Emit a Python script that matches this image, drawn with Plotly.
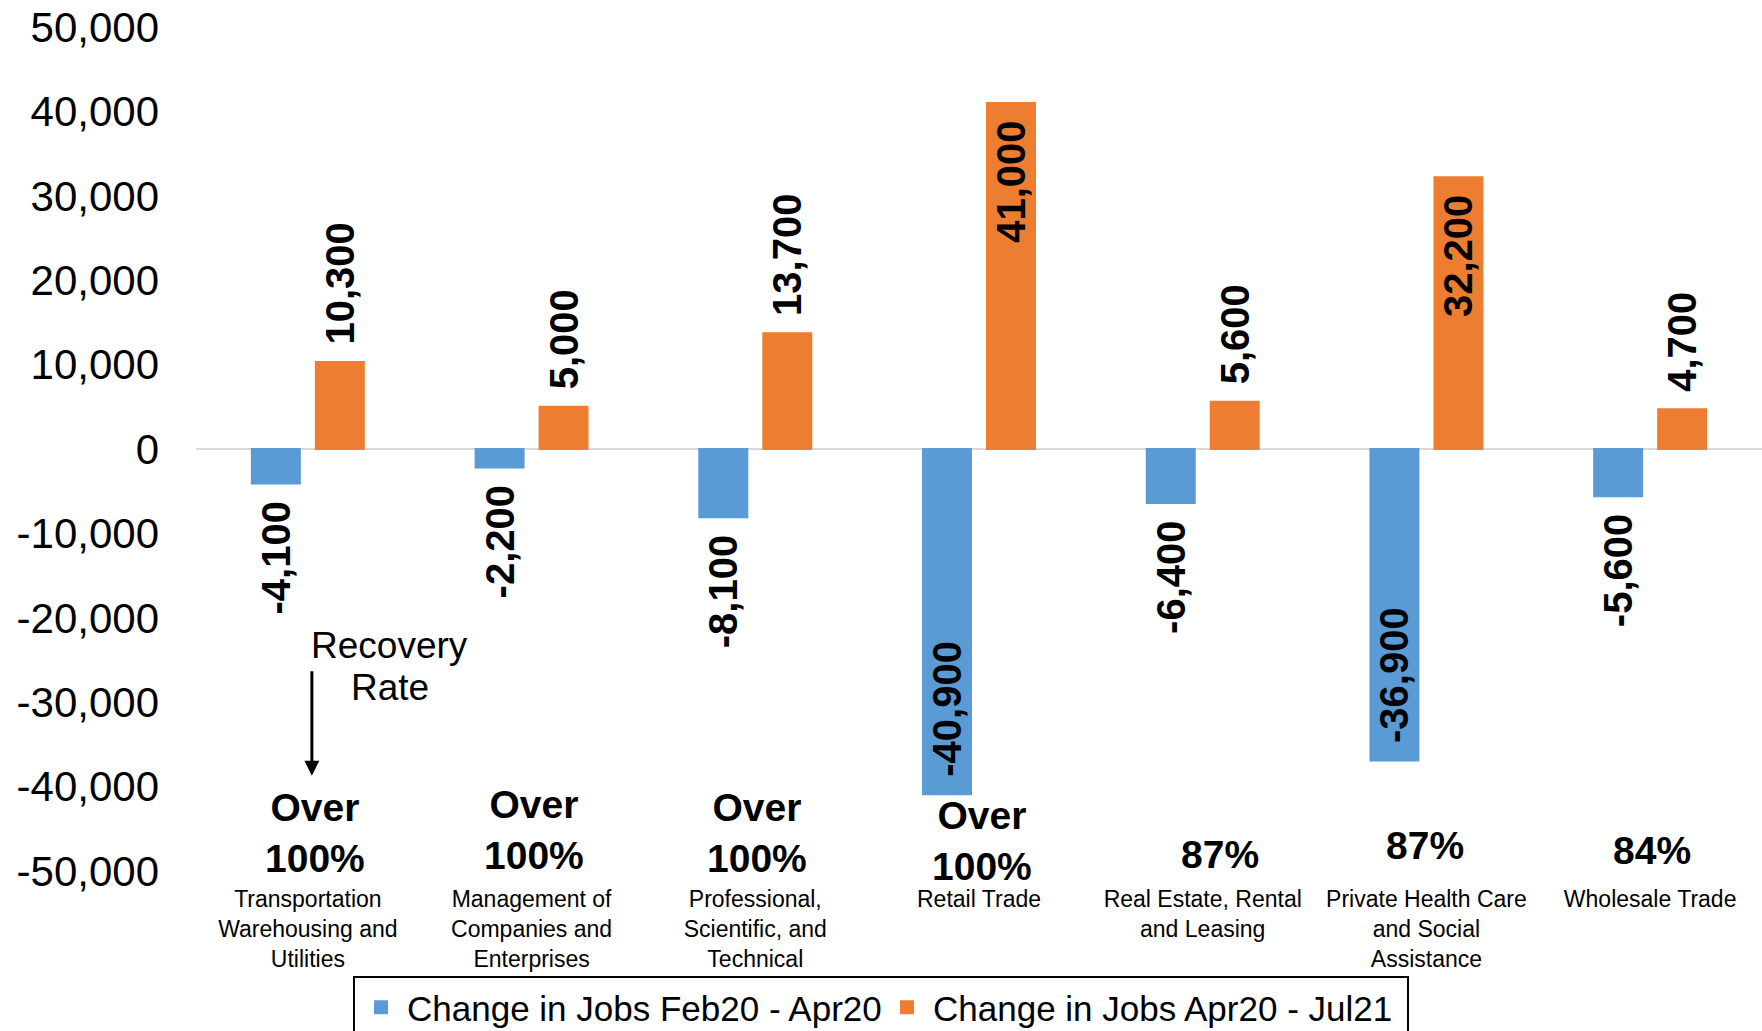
import plotly.graph_objects as go

categories = [
    "Transportation<br>Warehousing and<br>Utilities",
    "Management of<br>Companies and<br>Enterprises",
    "Professional,<br>Scientific, and<br>Technical",
    "Retail Trade",
    "Real Estate, Rental<br>and Leasing",
    "Private Health Care<br>and Social<br>Assistance",
    "Wholesale Trade",
]
series_names = ["Change in Jobs Feb20 - Apr20", "Change in Jobs Apr20 - Jul21"]
loss_feb_apr20 = [-4100, -2200, -8100, -40900, -6400, -36900, -5600]
gain_apr20_jul21 = [10300, 5000, 13700, 41000, 5600, 32200, 4700]
recovery_rates = ["Over<br>100%", "Over<br>100%", "Over<br>100%", "Over<br>100%", "87%", "87%", "84%"]
y_tick_values = [-50000, -40000, -30000, -20000, -10000, 0, 10000, 20000, 30000, 40000, 50000]
y_tick_labels = ["-50,000", "-40,000", "-30,000", "-20,000", "-10,000", "0",
                 "10,000", "20,000", "30,000", "40,000", "50,000"]

FONT = "Liberation Sans, Arial, sans-serif"
BLUE = "#5B9BD5"
ORANGE = "#ED7D31"
PAD = "\u00a0\u200a"


def labels(vals):
    return [PAD + f"{v:,}" + PAD for v in vals]


def positions(vals):
    # big bars get their label inside the bar end
    return ["inside" if abs(v) > 30000 else "outside" for v in vals]


fig = go.Figure()
for name, vals, color in [(series_names[0], loss_feb_apr20, BLUE),
                          (series_names[1], gain_apr20_jul21, ORANGE)]:
    fig.add_trace(go.Bar(
        name=name, x=categories, y=vals, marker=dict(color=color, line=dict(width=2, color=color)),
        text=labels(vals), textposition=positions(vals), textangle=-90,
        insidetextanchor="end", constraintext="none", cliponaxis=False,
        textfont=dict(family=FONT, size=40, color="black", weight="bold"),
    ))

# recovery-rate annotations
rate_y = [-45500, -45200, -45500, -46400, -48000, -47000, -47600]
rate_dx = [7, 2, 2, 3, 17, -1, 2]
for i, (txt, yy, dx) in enumerate(zip(recovery_rates, rate_y, rate_dx)):
    fig.add_annotation(x=i, y=yy, text=txt, showarrow=False, xshift=dx,
                       font=dict(family=FONT, size=39, color="black", weight="bold"),
                       align="center")

fig.add_annotation(x=0.367, y=-23300, text="Recovery", showarrow=False,
                   font=dict(family=FONT, size=37, color="black"))
fig.add_annotation(x=0.367, y=-28300, text="Rate", showarrow=False,
                   font=dict(family=FONT, size=37, color="black"))
fig.add_annotation(x=0.018, y=-38700, ax=0, ay=-106, text="", showarrow=True,
                   arrowhead=2, arrowsize=1, arrowwidth=3, arrowcolor="black")

fig.update_layout(
    width=1762, height=1031,
    margin=dict(l=196, r=0, t=27, b=160, autoexpand=False),
    paper_bgcolor="white", plot_bgcolor="white",
    barmode="group", bargap=0.428, bargroupgap=0.25,
    font=dict(family=FONT, color="black"),
    legend=dict(orientation="h", xref="container", yref="container",
                x=353 / 1762, y=1 - 976 / 1031, xanchor="left", yanchor="top",
                itemwidth=42, entrywidth=469, entrywidthmode="pixels",
                bordercolor="black", borderwidth=2, bgcolor="white",
                font=dict(family=FONT, size=35, color="black")),
)
fig.update_yaxes(range=[-50000, 50000], tickvals=y_tick_values, ticktext=y_tick_labels,
                 showgrid=False, zeroline=True, zerolinecolor="#D9D9D9", zerolinewidth=2,
                 showline=False, ticks="", ticklabelstandoff=36, automargin=False,
                 tickfont=dict(family=FONT, size=42, color="black"))
fig.update_xaxes(showgrid=False, showline=False, ticks="", tickangle=0, automargin=False,
                 ticklabelstandoff=12,
                 tickfont=dict(family=FONT, size=23, color="black"))

fig.write_html("out.html", config={"displayModeBar": False},
               post_script="document.body.style.margin='0';document.body.style.overflow='hidden';")
